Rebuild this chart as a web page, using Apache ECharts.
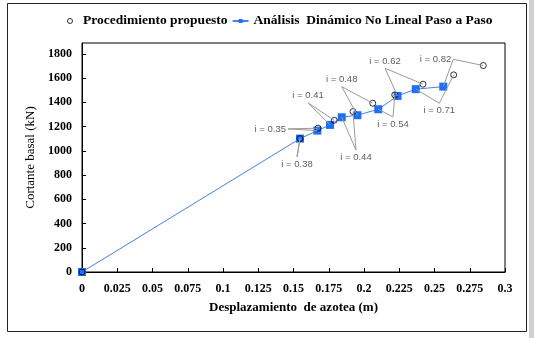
<!DOCTYPE html>
<html>
<head>
<meta charset="utf-8">
<script src="https://cdn.jsdelivr.net/npm/echarts@6/dist/echarts.min.js"></script>
<style>
  html, body { margin: 0; padding: 0; background: #fff; }
  #chart { width: 534px; height: 338px; }
</style>
</head>
<body>
<div id="chart"></div>
<script>
// desplazamiento (m) / cortante (kN)
var xPropuesto = [0, 0.1546, 0.1674, 0.1789, 0.1922, 0.2062, 0.2218, 0.2418, 0.2636, 0.2846];
var yPropuesto = [0, 1101, 1187, 1252, 1324, 1393, 1462, 1550, 1627, 1704];
var xDinamico = [0, 0.1546, 0.1669, 0.1759, 0.1842, 0.1953, 0.2101, 0.2238, 0.2367, 0.2562];
var yDinamico = [0, 1101, 1167, 1214, 1277, 1294, 1343, 1453, 1509, 1530];
var intensidades = ['0.35', '0.38', '0.41', '0.44', '0.48', '0.54', '0.62', '0.71', '0.82'];
var puntoDe = [2, 1, 3, 4, 5, 6, 7, 8, 9]; // index of the pair each label points to

// where each label's leader starts, and which side the text sits
var notas = [
  { at: [0.1461, 1181], pos: 'left' },
  { at: [0.1525, 950], pos: 'bottom' },
  { at: [0.1603, 1396], pos: 'top' },
  { at: [0.1943, 1007], pos: 'bottom' },
  { at: [0.1842, 1530], pos: 'top' },
  { at: [0.2206, 1280], pos: 'bottom' },
  { at: [0.2149, 1682], pos: 'top' },
  { at: [0.2534, 1393], pos: 'bottom' },
  { at: [0.2633, 1756], pos: 'left' }
];

var serif = 'Liberation Serif, Times New Roman, serif';
var azul = '#1f6ff2';

var lineas = [];
var textos = [];
notas.forEach(function (n, i) {
  var k = puntoDe[i];
  lineas.push([{ coord: n.at }, { coord: [xPropuesto[k], yPropuesto[k]] }]);
  lineas.push([{ coord: n.at }, { coord: [xDinamico[k], yDinamico[k]] }]);
  textos.push({ value: n.at, name: 'i = ' + intensidades[i], label: { position: n.pos } });
});

var chart = echarts.init(document.getElementById('chart'), null, { renderer: 'canvas' });
chart.setOption({
  animation: false,
  backgroundColor: '#fff',
  graphic: [
    { type: 'rect', shape: { x: 7.5, y: 3.5, width: 519, height: 328 }, style: { fill: 'none', stroke: '#222', lineWidth: 1 } },
    { type: 'rect', shape: { x: 529, y: 0, width: 5, height: 338 }, style: { fill: '#d0d0d0' } }
  ],
  legend: {
    top: 9, left: 62,
    data: [
      { name: 'Procedimiento propuesto', icon: 'circle', itemStyle: { color: '#fff', borderColor: '#000', borderWidth: 1 } },
      { name: 'Análisis  Dinámico No Lineal Paso a Paso' }
    ],
    itemWidth: 16, itemHeight: 5, itemGap: 4,
    textStyle: { fontFamily: serif, fontWeight: 'bold', fontSize: 13.5, color: '#000' }
  },
  grid: { left: 82, right: 29, top: 43, bottom: 66, show: true, borderColor: '#000', borderWidth: 1 },
  xAxis: {
    type: 'value', min: 0, max: 0.3, interval: 0.025,
    name: 'Desplazamiento  de azotea (m)', nameLocation: 'middle', nameGap: 29,
    nameTextStyle: { fontFamily: serif, fontWeight: 'bold', fontSize: 13, color: '#000' },
    axisLine: { lineStyle: { color: '#000' } },
    axisTick: { inside: true, length: 4, lineStyle: { color: '#000' } },
    axisLabel: { margin: 11, fontFamily: serif, fontWeight: 'bold', fontSize: 12, color: '#000',
      formatter: function (v) { return String(+v.toFixed(3)); } },
    splitLine: { show: false }
  },
  yAxis: {
    type: 'value', min: 0, max: 1890, interval: 200,
    name: 'Cortante basal (kN)', nameLocation: 'middle', nameGap: 41,
    nameTextStyle: { fontFamily: serif, fontSize: 13, color: '#000' },
    axisLine: { show: true, lineStyle: { color: '#000' } },
    axisTick: { inside: true, length: 4, lineStyle: { color: '#000' } },
    axisLabel: { margin: 10, fontFamily: serif, fontWeight: 'bold', fontSize: 12, color: '#000', showMaxLabel: false,
      formatter: function (v) { return String(v); } },
    splitLine: { show: false }
  },
  series: [
    {
      name: 'Análisis  Dinámico No Lineal Paso a Paso',
      type: 'line',
      data: xDinamico.map(function (x, i) { return [x, yDinamico[i]]; }),
      symbol: 'rect', symbolSize: 8,
      lineStyle: { color: '#4a7ee6', width: 1 },
      itemStyle: { color: azul },
      z: 3
    },
    {
      name: 'Procedimiento propuesto',
      type: 'scatter',
      data: xPropuesto.map(function (x, i) { return [x, yPropuesto[i]]; }),
      symbol: 'circle', symbolSize: 6,
      itemStyle: { color: 'rgba(255,255,255,0)', borderColor: '#000', borderWidth: 1 },
      z: 4,
      markLine: {
        silent: true, symbol: 'none', animation: false,
        label: { show: false },
        lineStyle: { color: '#9a9a9a', width: 1, type: 'solid' },
        data: lineas
      }
    },
    {
      name: 'notas',
      type: 'scatter',
      symbolSize: 0,
      silent: true,
      data: textos,
      label: {
        show: true, formatter: '{b}', distance: 2,
        fontFamily: 'Liberation Sans Narrow, Liberation Sans, sans-serif', fontSize: 9.5, color: '#333'
      },
      z: 5
    }
  ]
});
</script>
</body>
</html>
